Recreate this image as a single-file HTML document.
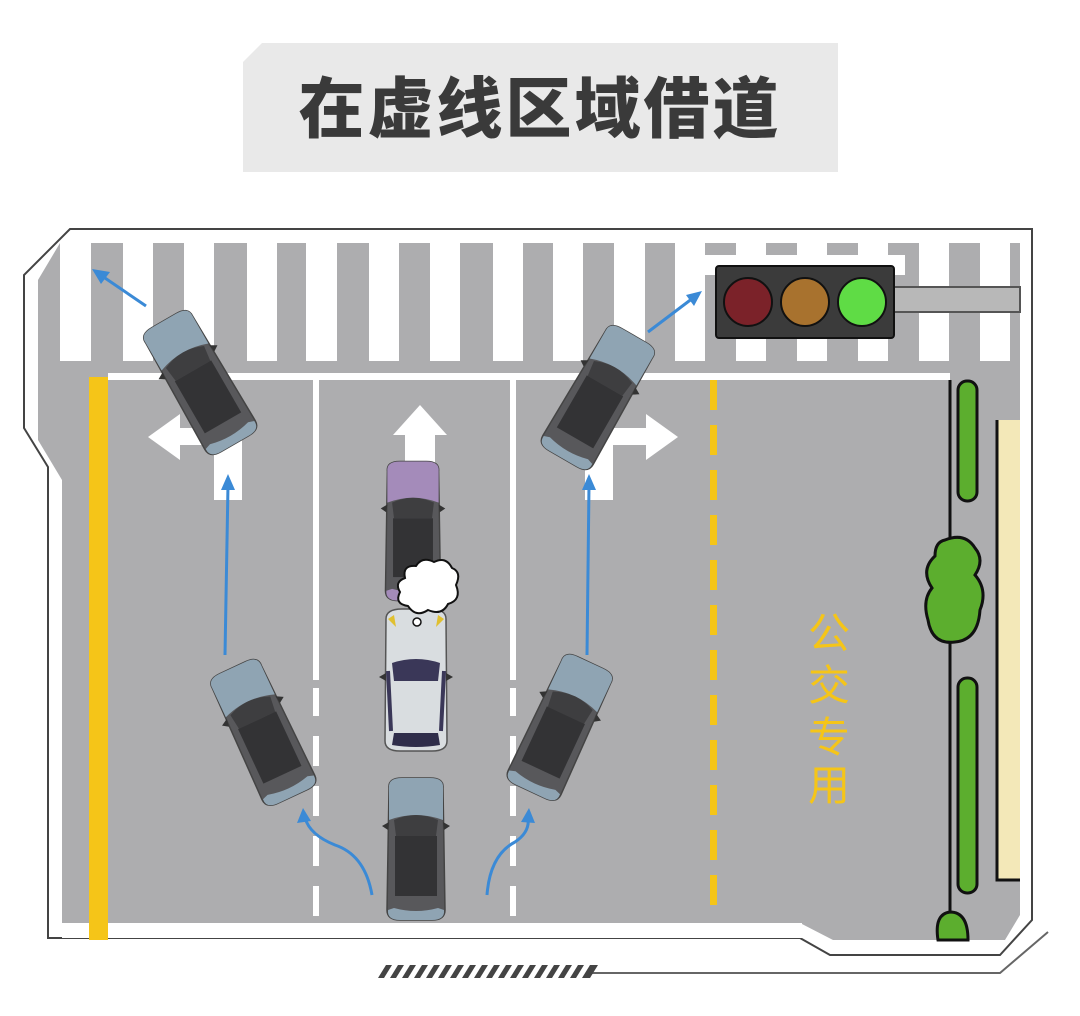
<!DOCTYPE html>
<html><head><meta charset="utf-8"><style>
html,body{margin:0;padding:0;background:#fff;}
svg{display:block;}
</style></head><body>
<svg width="1080" height="1016" viewBox="0 0 1080 1016" xmlns="http://www.w3.org/2000/svg">
<defs>
  <g id="car">
    <path d="M-27,-62 Q-28,-72 -14,-72 L14,-72 Q28,-72 27,-62 L29,60 Q29,70 16,70 L-16,70 Q-29,70 -29,60 Z" fill="#58585b" stroke="#444" stroke-width="1.5"/>
    <path d="M-27,-62 Q-28,-72 -14,-72 L14,-72 Q28,-72 27,-62 L27,-30 Q0,-40 -27,-30 Z" fill="var(--c)"/>
    <path d="M-22,-30 Q0,-40 22,-30 L20,-14 L-20,-14 Z" fill="#3e3e40"/>
    <rect x="-21" y="-14" width="42" height="60" fill="#333335"/>
    <path d="M-22,58 Q0,64 22,58 L28,60 Q29,70 16,70 L-16,70 Q-29,70 -28,60 Z" fill="var(--c)"/>
    <path d="M-27,-28 L-34,-24 L-28,-20 Z M27,-28 L34,-24 L28,-20 Z" fill="#333"/>
  </g>
  <g id="wcar">
    <path d="M-30,-62 Q-30,-72 -14,-72 L14,-72 Q30,-72 30,-62 L31,60 Q31,70 16,70 L-16,70 Q-31,70 -31,60 Z" fill="#d9dde0" stroke="#555" stroke-width="1.5"/>
    <path d="M-24,-18 Q0,-26 24,-18 L22,0 L-22,0 Z" fill="#3a3758"/>
    <path d="M-28,-10 L-25,50 M28,-10 L25,50" stroke="#3a3758" stroke-width="4"/>
    <path d="M-22,52 L22,52 L24,64 Q0,68 -24,64 Z" fill="#2f2d4a"/>
    <path d="M-28,-62 L-22,-66 L-20,-54 Z M28,-62 L22,-66 L20,-54 Z" fill="#e0c030"/>
    <path d="M-30,-8 L-37,-4 L-30,0 Z M30,-8 L37,-4 L30,0 Z" fill="#333"/>
  </g>
</defs>
<!-- title -->
<path d="M262,43 L838,43 L838,172 L243,172 L243,62 Z" fill="#e9e9e9"/>
<text x="540" y="132" text-anchor="middle" font-family="'Liberation Sans','Noto Sans CJK SC',sans-serif" font-weight="900" font-size="66" fill="#3a3a3a" letter-spacing="3">在虚线区域借道</text>

<!-- frame outline -->
<path d="M70,229 L1032,229 L1032,920 L1000,955 L830,955 L800,938 L48,938 L48,467 L24,428 L24,275 Z" fill="#fff" stroke="#444" stroke-width="2"/>
<path d="M592,973 L1000,973 L1048,932" fill="none" stroke="#666" stroke-width="2"/>
<g fill="#444">
  <polygon points="378,978 386,965 392,965 384,978"/><polygon points="390,978 398,965 404,965 396,978"/><polygon points="402,978 410,965 416,965 408,978"/><polygon points="414,978 422,965 428,965 420,978"/><polygon points="426,978 434,965 440,965 432,978"/><polygon points="438,978 446,965 452,965 444,978"/><polygon points="450,978 458,965 464,965 456,978"/><polygon points="462,978 470,965 476,965 468,978"/><polygon points="474,978 482,965 488,965 480,978"/><polygon points="486,978 494,965 500,965 492,978"/><polygon points="498,978 506,965 512,965 504,978"/><polygon points="510,978 518,965 524,965 516,978"/><polygon points="522,978 530,965 536,965 528,978"/><polygon points="534,978 542,965 548,965 540,978"/><polygon points="546,978 554,965 560,965 552,978"/><polygon points="558,978 566,965 572,965 564,978"/><polygon points="570,978 578,965 584,965 576,978"/><polygon points="582,978 590,965 598,965 590,978"/>
</g>

<!-- road gray -->
<path d="M60,243 L1020,243 L1020,915 L1005,940 L833,940 L800,923 L62,923 L62,480 L38,440 L38,280 Z" fill="#adadaf"/>
<rect x="62" y="923" width="740" height="15" fill="#fff"/>
<!-- crosswalk white stripes -->
<g fill="#fff">
  <rect x="60" y="243" width="31" height="118"/>
  <rect x="123" y="243" width="30" height="118"/>
  <rect x="184" y="243" width="30" height="118"/>
  <rect x="247" y="243" width="30" height="118"/>
  <rect x="306" y="243" width="31" height="118"/>
  <rect x="369" y="243" width="30" height="118"/>
  <rect x="430" y="243" width="30" height="118"/>
  <rect x="493" y="243" width="30" height="118"/>
  <rect x="553" y="243" width="30" height="118"/>
  <rect x="614" y="243" width="31" height="118"/>
  <rect x="675" y="243" width="30" height="118"/>
  <rect x="705" y="255" width="200" height="20"/>
  <rect x="736" y="243" width="30" height="118"/>
  <rect x="797" y="243" width="30" height="118"/>
  <rect x="858" y="243" width="30" height="118"/>
  <rect x="919" y="243" width="30" height="118"/>
  <rect x="980" y="243" width="30" height="118"/>
</g>
<!-- stop line -->
<rect x="108" y="373" width="842" height="7" fill="#fff"/>
<!-- yellow solid -->
<rect x="89" y="377" width="19" height="563" fill="#f5c518"/>
<!-- lane dividers -->
<rect x="313" y="380" width="6" height="300" fill="#fff"/>
<rect x="510" y="380" width="6" height="300" fill="#fff"/>
<g fill="#fff">
  <rect x="313" y="688" width="6" height="28"/><rect x="313" y="736" width="6" height="30"/><rect x="313" y="786" width="6" height="30"/><rect x="313" y="836" width="6" height="30"/><rect x="313" y="886" width="6" height="30"/>
  <rect x="510" y="688" width="6" height="28"/><rect x="510" y="736" width="6" height="30"/><rect x="510" y="786" width="6" height="30"/><rect x="510" y="836" width="6" height="30"/><rect x="510" y="886" width="6" height="30"/>
</g>
<!-- yellow dashed -->
<g fill="#f5c518">
  <rect x="710" y="380" width="7" height="30"/><rect x="710" y="425" width="7" height="30"/><rect x="710" y="470" width="7" height="30"/><rect x="710" y="515" width="7" height="30"/><rect x="710" y="560" width="7" height="30"/><rect x="710" y="605" width="7" height="30"/><rect x="710" y="650" width="7" height="30"/><rect x="710" y="695" width="7" height="30"/><rect x="710" y="740" width="7" height="30"/><rect x="710" y="785" width="7" height="30"/><rect x="710" y="830" width="7" height="30"/><rect x="710" y="875" width="7" height="30"/>
</g>
<!-- curb & greenery -->
<line x1="950" y1="380" x2="950" y2="925" stroke="#111" stroke-width="3"/>
<rect x="958" y="381" width="19" height="120" rx="9" fill="#5cae2e" stroke="#111" stroke-width="3"/>
<rect x="958" y="678" width="19" height="215" rx="9" fill="#5cae2e" stroke="#111" stroke-width="3"/>
<path d="M997,420 L1020,420 L1020,880 L997,880 Z" fill="#f3e8b8"/>
<path d="M997,420 L997,880 L1020,880" fill="none" stroke="#111" stroke-width="3"/>
<g fill="#5cae2e" stroke="#111" stroke-width="3">
  <path d="M945,540 Q965,532 975,548 Q985,560 975,575 Q988,590 980,610 Q978,640 955,642 Q932,645 928,620 Q922,600 932,588 Q920,570 935,556 Q935,542 945,540 Z"/>
  <path d="M938,940 Q934,914 950,912 Q968,912 968,940 Z"/>
</g>
<!-- traffic light -->
<rect x="893" y="287" width="127" height="25" fill="#b8b8b8" stroke="#555" stroke-width="2"/>
<rect x="716" y="266" width="178" height="72" rx="3" fill="#3b3b3b" stroke="#111" stroke-width="2"/>
<circle cx="748" cy="302" r="24" fill="#7b2229" stroke="#111" stroke-width="2"/>
<circle cx="805" cy="302" r="24" fill="#a8722e" stroke="#111" stroke-width="2"/>
<circle cx="862" cy="302" r="24" fill="#5fdc45" stroke="#111" stroke-width="2"/>
<!-- road arrows -->
<g fill="#fff">
  <path d="M214,500 L214,445 L180,445 L180,460 L148,437 L180,414 L180,428 L242,428 L242,500 Z"/>
  <path d="M405,470 L405,435 L393,435 L420,405 L447,435 L435,435 L435,470 Z"/>
  <path d="M585,500 L585,428 L646,428 L646,414 L678,437 L646,460 L646,445 L613,445 L613,500 Z"/>
</g>
<!-- text -->
<g font-family="'Liberation Sans','Noto Sans CJK SC',sans-serif" font-size="42" fill="#f5c518" text-anchor="middle">
  <text x="829" y="648">公</text><text x="829" y="700">交</text><text x="829" y="752">专</text><text x="829" y="800">用</text>
</g>
<!-- blue arrows -->
<g stroke="#3b8ad6" stroke-width="3" fill="none">
  <line x1="225" y1="655" x2="228" y2="485"/>
  <line x1="587" y1="655" x2="589" y2="485"/>
  <line x1="146" y1="306" x2="102" y2="276"/>
  <line x1="648" y1="332" x2="693" y2="298"/>
  <path d="M372,895 Q365,855 335,845 Q310,835 305,818"/>
  <path d="M487,895 Q490,855 515,842 Q530,832 528,818"/>
</g>
<g fill="#3b8ad6">
  <polygon points="228,474 221,490 235,490"/>
  <polygon points="589,474 582,490 596,490"/>
  <polygon points="92,269 110,272 101,284"/>
  <polygon points="702,291 694,306 686,295"/>
  <polygon points="303,808 297,823 311,821"/>
  <polygon points="529,808 521,822 535,823"/>
</g>
<!-- cars -->
<use href="#car" style="--c:#8fa4b3" transform="translate(200,383) rotate(-30)"/>
<use href="#car" style="--c:#8fa4b3" transform="translate(598,398) rotate(30)"/>
<use href="#car" style="--c:#a48bba" transform="translate(413,532) scale(0.95,0.98)"/>
<use href="#wcar" transform="translate(416,681)"/>
<use href="#car" style="--c:#8fa4b3" transform="translate(416,850)"/>
<use href="#car" style="--c:#8fa4b3" transform="translate(263,733) rotate(-25)"/>
<use href="#car" style="--c:#8fa4b3" transform="translate(560,728) rotate(25)"/>
<!-- cloud -->
<path d="M405,578 Q402,565 416,566 Q422,556 434,562 Q446,556 452,568 Q462,572 456,585 Q462,600 448,604 Q442,616 428,610 Q416,618 408,606 Q394,604 400,592 Q394,582 405,578 Z" fill="#fff" stroke="#111" stroke-width="2"/>
<circle cx="417" cy="622" r="4" fill="#fff" stroke="#111" stroke-width="1.5"/>
</svg>
</body></html>
